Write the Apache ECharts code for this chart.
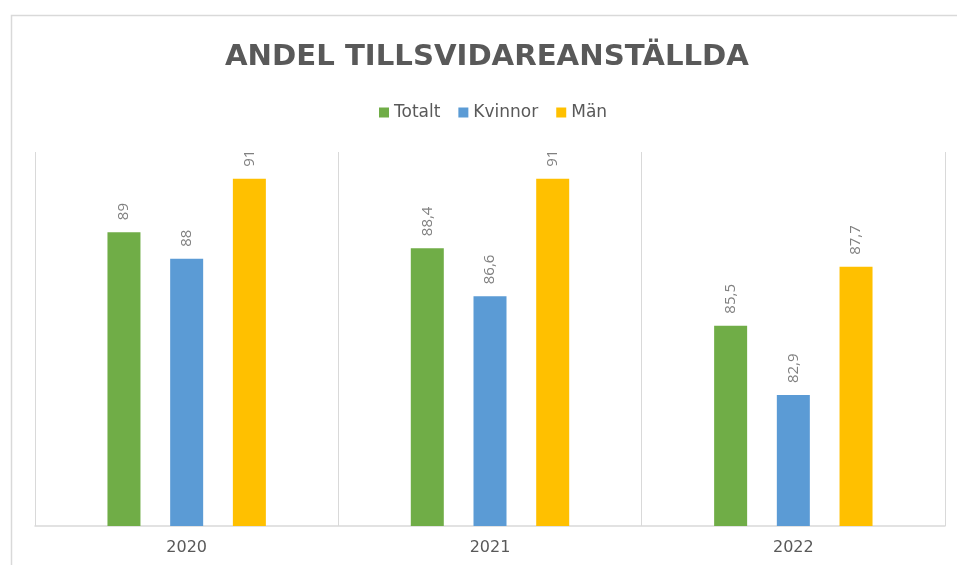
<!DOCTYPE html>
<html>
<head>
<meta charset="utf-8">
<script src="https://cdn.jsdelivr.net/npm/echarts@6/dist/echarts.min.js"></script>
<style>
    html, body { margin: 0; padding: 0; background: #fff; }
    #chart { width: 957px; height: 565px; }
</style>
</head>
<body>
<div id="chart"></div>
<script>
// data
var years = ['2020', '2021', '2022'];
var totalt = [89, 88.4, 85.5];
var kvinnor = [88, 86.6, 82.9];
var man = [91, 91, 87.7];

var chart = echarts.init(document.getElementById('chart'));

function barLabel() {
    return {
        show: true,
        position: 'top',
        rotate: 90,
        align: 'left',
        verticalAlign: 'middle',
        distance: 12,
        color: '#808080',
        fontFamily: 'Open Sans',
        fontSize: 15,
        formatter: function (p) {
            return String(p.value).replace('.', ',');
        }
    };
}

var option = {
    backgroundColor: '#fff',
    animation: false,
    title: {
        text: 'ANDEL TILLSVIDAREANSTÄLLDA',
        left: 220,
        top: 38,
        textStyle: {
            fontFamily: 'DejaVu Sans',
            fontWeight: 'bold',
            fontSize: 29.2,
            color: '#595959'
        }
    },
    legend: {
        left: 374,
        top: 99,
        icon: 'rect',
        itemWidth: 10,
        itemHeight: 10,
        itemGap: 18,
        textStyle: {
            fontFamily: 'DejaVu Sans',
            fontSize: 17,
            color: '#595959'
        },
        data: ['Totalt', 'Kvinnor', 'Män']
    },
    graphic: [{
        type: 'rect',
        shape: { x: 11.5, y: 15.5, width: 1000, height: 600 },
        style: { fill: 'none', stroke: '#d9d9d9', lineWidth: 1.5 },
        silent: true
    }],
    grid: {
        left: 35,
        right: 12,
        top: 152,
        bottom: 39
    },
    xAxis: {
        type: 'category',
        data: years,
        axisLine: { lineStyle: { color: '#d9d9d9', width: 1.5 } },
        axisTick: { show: false },
        splitLine: { show: true, interval: 0, lineStyle: { color: '#d9d9d9' } },
        axisLabel: {
            margin: 14,
            color: '#595959',
            fontFamily: 'DejaVu Sans',
            fontSize: 16
        }
    },
    yAxis: {
        type: 'value',
        min: 78,
        max: 92,
        show: false,
        splitLine: { show: false }
    },
    series: [{
        name: 'Totalt',
        type: 'bar',
        data: totalt,
        barWidth: 33,
        barGap: '90%',
        itemStyle: { color: '#70ad47' },
        label: barLabel()
    }, {
        name: 'Kvinnor',
        type: 'bar',
        data: kvinnor,
        barWidth: 33,
        barGap: '90%',
        itemStyle: { color: '#5b9bd5' },
        label: barLabel()
    }, {
        name: 'Män',
        type: 'bar',
        data: man,
        barWidth: 33,
        barGap: '90%',
        itemStyle: { color: '#ffc000' },
        label: barLabel()
    }]
};
chart.setOption(option);
</script>
</body>
</html>
